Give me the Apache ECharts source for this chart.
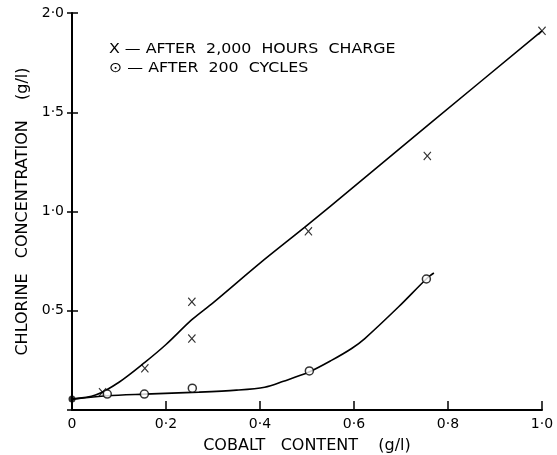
<!DOCTYPE html>
<html>
<head>
<meta charset="utf-8">
<script src="https://cdn.jsdelivr.net/npm/echarts@6/dist/echarts.min.js"></script>
<style>html,body{margin:0;padding:0;background:#fff}#c{width:557px;height:455px}</style>
</head>
<body>
<div id="c"></div>
<script>
// Measured points: after 2,000 hours charge (x markers)
const chargePoints = [[0.065, 0.09], [0.155, 0.21], [0.255, 0.545], [0.255, 0.36], [0.503, 0.90], [0.756, 1.28], [1.0, 1.91]];
// Measured points: after 200 cycles (circle markers)
const cyclePoints = [[0.075, 0.08], [0.154, 0.08], [0.256, 0.11], [0.505, 0.197], [0.754, 0.66]];
// Common starting point
const startPoint = [[0, 0.055]];
// Hand-drawn fitted curves
const chargeCurve = [[0, 0.055], [0.05, 0.075], [0.1, 0.14], [0.155, 0.24], [0.2, 0.33], [0.255, 0.455], [0.3, 0.54], [0.4, 0.74], [0.5, 0.93], [0.6, 1.125], [0.76, 1.44], [1.0, 1.91]];
const cycleCurve = [[0, 0.055], [0.075, 0.072], [0.155, 0.08], [0.27, 0.09], [0.35, 0.10], [0.41, 0.115], [0.45, 0.145], [0.503, 0.19], [0.552, 0.25], [0.595, 0.31], [0.623, 0.36], [0.695, 0.52], [0.756, 0.665], [0.77, 0.69]];
// Tick labels
const xTicks = {0: '0', 0.2: '0·2', 0.4: '0·4', 0.6: '0·6', 0.8: '0·8', 1: '1·0'};
const yTicks = {0.5: '0·5', 1: '1·0', 1.5: '1·5', 2: '2·0'};
const legendTexts = ['X — AFTER  2,000  HOURS  CHARGE', '⊙ — AFTER  200  CYCLES'];
const xTitle = 'COBALT   CONTENT    (g/l)';
const yTitle = 'CHLORINE   CONCENTRATION    (g/l)';

const FONT = 'DejaVu Sans';
const crossPath = 'path://M0,1L1,0L5,4L9,0L10,1L6,5L10,9L9,10L5,6L1,10L0,9L4,5Z';

const chart = echarts.init(document.getElementById('c'));
chart.setOption({
  animation: false,
  backgroundColor: '#fff',
  grid: {left: 72, right: 15, top: 13, bottom: 45, containLabel: false, outerBoundsMode: 'none'},
  xAxis: {
    type: 'value', min: 0, max: 1, interval: 0.2,
    name: xTitle, nameLocation: 'middle', nameGap: 28,
    nameTextStyle: {color: '#000', fontFamily: FONT, fontSize: 16},
    axisLine: {lineStyle: {color: '#000', width: 2}},
    axisTick: {inside: true, length: 9, lineStyle: {color: '#000', width: 1.5}},
    axisLabel: {color: '#000', fontFamily: FONT, fontSize: 14, margin: 7,
      formatter: v => xTicks[Math.round(v * 10) / 10] ?? ''},
    splitLine: {show: false}
  },
  yAxis: [{
    type: 'value', min: 0, max: 2, interval: 0.5,
    name: yTitle, nameLocation: 'middle', nameGap: 38, nameRotate: 90,
    nameTextStyle: {color: '#000', fontFamily: FONT, fontSize: 16},
    axisLine: {lineStyle: {color: '#000', width: 2}},
    axisTick: {inside: false, length: 5, lineStyle: {color: '#000', width: 1.5}},
    axisLabel: {color: '#000', fontFamily: FONT, fontSize: 14, margin: 8,
      formatter: v => yTicks[Math.round(v * 10) / 10] ?? ''},
    splitLine: {show: false}
  }, {
    type: 'value', min: 0, max: 2, interval: 0.5, position: 'left',
    axisLine: {show: false},
    axisTick: {inside: true, length: 6, lineStyle: {color: '#000', width: 1.5}},
    axisLabel: {show: false},
    splitLine: {show: false}
  }],
  graphic: [
    {type: 'text', left: 109, top: 42, scaleX: 1.13, style: {text: legendTexts[0], fill: '#000', font: '14px "DejaVu Sans"'}},
    {type: 'text', left: 109, top: 61, scaleX: 1.13, style: {text: legendTexts[1], fill: '#000', font: '14px "DejaVu Sans"'}}
  ],
  series: [
    {type: 'line', data: chargeCurve, smooth: 0.3, showSymbol: false, lineStyle: {color: '#000', width: 1.6}, z: 2},
    {type: 'line', data: cycleCurve, smooth: 0.3, showSymbol: false, lineStyle: {color: '#000', width: 1.6}, z: 2},
    {type: 'scatter', data: chargePoints, symbol: crossPath, symbolSize: [8, 9], itemStyle: {color: '#000'}, z: 3},
    {type: 'scatter', data: cyclePoints, symbol: 'circle', symbolSize: 8, itemStyle: {color: '#fff', borderColor: '#000', borderWidth: 1.5}, z: 3},
    {type: 'scatter', data: startPoint, symbol: 'circle', symbolSize: 7, itemStyle: {color: '#000'}, z: 4}
  ]
});
</script>
</body>
</html>
